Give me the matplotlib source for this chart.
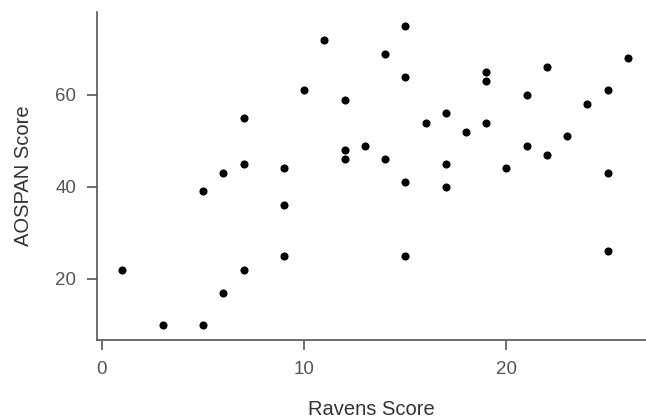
import matplotlib
matplotlib.use("Agg")
import matplotlib.pyplot as plt

# Ravens vs AOSPAN scores
ravens = [1, 3, 5, 5, 6, 6, 7, 7, 7, 9, 9, 9, 10, 11, 12, 12, 12, 13, 14, 14,
          15, 15, 15, 15, 16, 17, 17, 17, 18, 19, 19, 19, 20, 21, 21, 22, 22,
          23, 24, 25, 25, 25, 26]
aospan = [22, 10, 10, 39, 17, 43, 22, 45, 55, 25, 36, 44, 61, 72, 59, 48, 46,
          49, 69, 46, 75, 64, 41, 25, 54, 56, 45, 40, 52, 65, 63, 54, 44, 60,
          49, 66, 47, 51, 58, 61, 43, 26, 68]
xticks = [0, 10, 20]
yticks = [20, 40, 60]

plt.rcParams['font.family'] = ['Liberation Sans', 'DejaVu Sans']

fig = plt.figure(figsize=(6.46, 4.19), dpi=100)
ax = fig.add_axes([0.150, 0.1885, 0.850, 0.7825])

ax.scatter(ravens, aospan, s=34, color='black', zorder=3, linewidths=0)

ax.set_xlim(-0.25, 26.9)
ax.set_ylim(6.7, 78)
ax.set_xticks(xticks)
ax.set_yticks(yticks)

for side in ['top', 'right']:
    ax.spines[side].set_visible(False)
for side in ['left', 'bottom']:
    ax.spines[side].set_color('#555555')
    ax.spines[side].set_linewidth(1.2)

ax.tick_params(colors='#555555', labelcolor='#555555', labelsize=13.5,
               length=7, width=1.2, pad=8)

ax.set_xlabel('Ravens Score', fontsize=14.5, color='#333333', labelpad=16)
ax.set_ylabel('AOSPAN Score', fontsize=14.5, color='#333333', labelpad=16)

fig.savefig('out.png', dpi=100)
